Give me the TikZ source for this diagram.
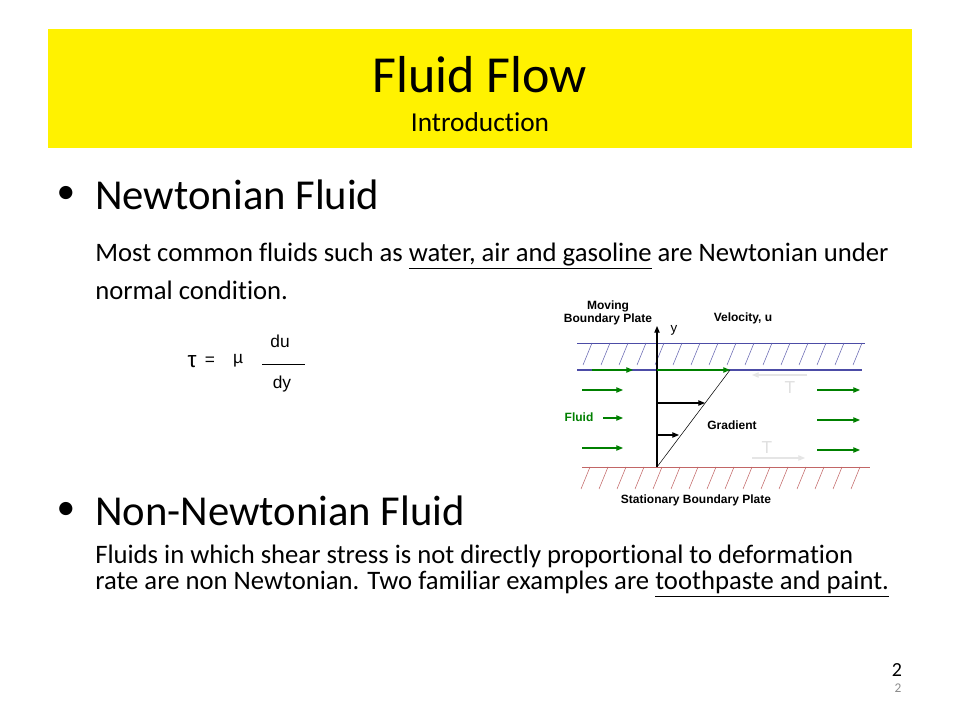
\documentclass[tikz,border=0pt]{standalone}
\usepackage{fontspec}
\setmainfont[Ligatures=NoCommon]{Carlito}
\newfontfamily\arial{Liberation Sans}
\usetikzlibrary{arrows.meta}
\begin{document}
\begin{tikzpicture}[x=0.75pt,y=-0.75pt,
  lbl/.style={font=\arial\bfseries\fontsize{9}{10}\selectfont,inner sep=0pt},
  garr/.style={draw=green!50!black,-{Triangle[length=5pt,width=4pt]},line width=0.8pt},
  barr/.style={draw=black,-{Triangle[length=5pt,width=4pt]},line width=0.8pt},
  farr/.style={draw=black!10,-{Triangle[length=5pt,width=4pt]},line width=0.8pt},
  body/.style={anchor=west,inner sep=0pt,font=\fontsize{20}{24}\selectfont}]
\useasboundingbox (0,0) rectangle (960,720);
\fill[white] (0,0) rectangle (960,720);
\fill[yellow] (48,29) rectangle (912,148);
\node[inner sep=0pt,font=\fontsize{39}{44}\selectfont] (title) at (480,75) {Fluid Flow};
\node[inner sep=0pt,font=\fontsize{20.5}{24}\selectfont] (sub) at (480,122) {Introduction};
\node[inner sep=0pt,font=\fontsize{28}{32}\selectfont] (b1) at (66,195) {•};
\node[anchor=west,inner sep=0pt,font=\fontsize{32}{36}\selectfont] (h1) at (95,195) {Newtonian Fluid};
\node[body] (t1) at (95,256) {Most common fluids such as \underline{water, air and gasoline} are Newtonian under};
\node[body] (t2) at (95,290) {normal condition.};
\node[inner sep=0pt,font=\fontsize{28}{32}\selectfont] (b2) at (66,511) {•};
\node[anchor=west,inner sep=0pt,font=\fontsize{32}{36}\selectfont] (h2) at (95,511) {Non-Newtonian Fluid};
\node[body] (t3) at (95,556) {Fluids in which shear stress is not directly proportional to deformation};
\node[body] (t4) at (95,584) {rate are non Newtonian. Two familiar examples are \underline{toothpaste and paint.}};
\node[inner sep=0pt,font=\fontsize{15}{17}\selectfont] (p1) at (897,670) {2};
\node[inner sep=0pt,text=black!45,font=\fontsize{10}{11}\selectfont] (p2) at (898,688) {2};
% formula
\begin{scope}[every node/.style={inner sep=0pt,font=\arial\fontsize{13}{15}\selectfont}]
\node (tau) at (192,362) {\fontsize{17}{18}\selectfont τ};
\node (eq) at (210,361) {=};
\node (mu) at (238,361) {µ};
\node (du) at (280,341) {du};
\node (dy) at (282,384) {dy};
\end{scope}
\coordinate (fl) at (262,364); \coordinate (fr) at (305,364);
\draw[line width=0.6pt] (fl) -- (fr);
% plates
\coordinate (tl) at (577,343); \coordinate (tr) at (865,343);
\coordinate (ml) at (577,370); \coordinate (mr) at (862,370);
\coordinate (bl) at (582,467); \coordinate (br) at (870,467);
\draw[blue!50!black!70] (tl) -- (tr);
\draw[blue!50!black!70,line width=0.8pt] (ml) -- (mr);
\foreach \x in {583,601,...,855} \draw[blue!50!black!60] (\x,365) -- (\x+9,343);
\draw[red!60!black!60] (bl) -- (br);
\foreach \x in {590,608,...,870} \draw[red!60!black!60] (\x,467) -- (\x-9,489);
% axis and profile
\coordinate (o) at (657,467); \coordinate (ytop) at (657,326);
\coordinate (g) at (730,370);
\draw[line width=0.8pt,-{Triangle[length=5pt,width=4pt]}] (o) -- (ytop);
\draw[line width=0.4pt] (o) -- (g);
\coordinate (a1) at (657,403); \coordinate (a1e) at (705,403);
\coordinate (a2) at (657,435); \coordinate (a2e) at (679,435);
\draw[barr] (a1) -- (a1e);
\draw[barr] (a2) -- (a2e);
\coordinate (ga) at (657,370);
\draw[garr] (ga) -- (g);
\coordinate (g0) at (592,370); \coordinate (g0e) at (633,370);
\draw[garr] (g0) -- (g0e);
\draw[garr] (582,390) -- (623,390);
\draw[garr] (603,418) -- (623,418);
\draw[garr] (582,448) -- (623,448);
\foreach \y in {390,420,450} \draw[garr] (817,\y) -- (860,\y);
% faint tau
\draw[farr] (807,375) -- (752,375);
\draw[farr] (752,458) -- (805,458);
\node[inner sep=0pt,text=black!12,font=\arial\fontsize{13}{15}\selectfont] (t1a) at (790,388) {T};
\node[inner sep=0pt,text=black!12,font=\arial\fontsize{13}{15}\selectfont] (t2a) at (767,448) {T};
% labels
\node[lbl,align=center] (mov) at (608,313) {Moving\\Boundary Plate};
\node[lbl] (vel) at (743,318) {Velocity, u};
\node[inner sep=0pt,font=\arial\fontsize{10}{12}\selectfont] (yl) at (674,330) {y};
\node[lbl] (grad) at (732,425) {Gradient};
\node[lbl,text=green!50!black] (fluid) at (579,417) {Fluid};
\node[lbl] (stat) at (696,500) {Stationary Boundary Plate};
\end{tikzpicture}
\end{document}
